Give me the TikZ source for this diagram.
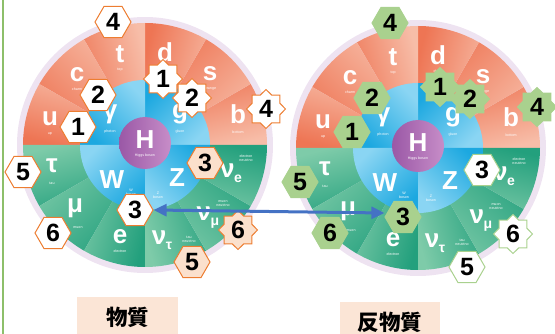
\documentclass[tikz,border=0pt]{standalone}
\usepackage{fontspec}
\setmainfont{Liberation Sans}
\newfontfamily\cjk{Noto Sans CJK JP}
\usetikzlibrary{shapes.geometric,arrows.meta}
\definecolor{orD}{HTML}{EE7554}
\definecolor{orL}{HTML}{F7BDA8}
\definecolor{grD}{HTML}{23A07D}
\definecolor{grL}{HTML}{7ECBA9}
\definecolor{blD}{HTML}{1CA8E0}
\definecolor{blL}{HTML}{8AD5F3}
\definecolor{puD}{HTML}{9A58A6}
\definecolor{puL}{HTML}{C78DC8}
\definecolor{lav}{HTML}{EEE3F1}
\definecolor{badgeOr}{HTML}{ED7D31}
\definecolor{peach}{HTML}{FBE0CC}
\definecolor{badgeGr}{HTML}{A9D18E}
\definecolor{arrowBl}{HTML}{4472C4}
\definecolor{lineGr}{HTML}{8DBF6A}
\definecolor{labelBg}{HTML}{FBE5D6}
\tikzset{
  big/.style={text=white,font=\fontsize{26}{26}\selectfont\bfseries,inner sep=0pt},
  tiny/.style={text=white,font=\fontsize{3.6}{4}\selectfont,inner sep=0pt,align=center},
  hexb/.style={regular polygon,regular polygon sides=6,minimum size=36pt,inner sep=0pt,
    font=\fontsize{25}{25}\selectfont\bfseries,line width=1pt},
  starb/.style={star,star points=8,star point ratio=1.3,minimum size=39pt,inner sep=0pt,
    font=\fontsize{25}{25}\selectfont\bfseries,line width=1pt},
  orW/.style={draw=badgeOr,fill=white},
  orP/.style={draw=badgeOr,fill=peach},
  grF/.style={draw=badgeGr,fill=badgeGr},
  grW/.style={draw=badgeGr,fill=white},
  labelbox/.style={fill=labelBg,inner sep=0pt,font=\cjk\bfseries\fontsize{21.5}{22}\selectfont},
  biarrow/.style={draw=arrowBl,line width=3pt,
    {Triangle[length=13pt,width=12pt]}-{Triangle[length=13pt,width=12pt]}},
}
\newcommand\nusub[1]{ν\kern-0.5pt\raisebox{-5pt}{\fontsize{14}{14}\selectfont #1}}
\newcommand\mywheel[3]{%
\begin{scope}[shift={(#1,#2)}]
  \fill[lav] (0,0) circle[radius=128pt];
  \foreach \a in {0,30,...,150}{%
    \pgfmathsetmacro\mm{\a+15}%
    \shade[top color=orD,bottom color=orL,shading angle=\mm] (0,0) -- (\a:122pt)
      arc[start angle=\a,delta angle=30,radius=122pt] -- cycle;}
  \foreach \a in {180,210,...,330}{%
    \pgfmathsetmacro\mm{\a+15}%
    \shade[top color=grD,bottom color=grL,shading angle=\mm] (0,0) -- (\a:122pt)
      arc[start angle=\a,delta angle=30,radius=122pt] -- cycle;}
  \foreach \a in {0,90,180,270}{%
    \pgfmathsetmacro\mm{\a+45}%
    \shade[top color=blD,bottom color=blL,shading angle=\mm] (0,0) -- (\a:65pt)
      arc[start angle=\a,delta angle=90,radius=65pt] -- cycle;}
  \shade[left color=puD,right color=puL] (0,-2) circle[radius=26pt];
  % letters
  \node[big] (#3u) at (-95,-26) {u};
  \node[tiny] (#3us) at (-95,-11) {up};
  \node[big] (#3c) at (-68,-70) {c};
  \node[tiny] (#3cs) at (-68,-56) {charm};
  \node[big] (#3t) at (-25,-91) {t};
  \node[tiny] (#3ts) at (-25,-75) {top};
  \node[big] (#3d) at (20,-93) {d};
  \node[tiny] (#3ds) at (20,-77) {down};
  \node[big] (#3s) at (65,-71) {s};
  \node[tiny] (#3ss) at (65,-56) {strange};
  \node[big] (#3b) at (93,-31) {b};
  \node[tiny] (#3bs) at (93,-13) {bottom};
  \node[big] (#3y) at (-35,-31) {γ};
  \node[tiny] (#3ys) at (-35,-13) {photon};
  \node[big] (#3g) at (35,-31) {g};
  \node[tiny] (#3gs) at (35,-13) {gluon};
  \node[big] (#3H) at (0,-5) {H};
  \node[tiny] (#3Hs) at (0,11) {Higgs boson};
  \node[big] (#3W) at (-33,35) {W};
  \node[tiny] (#3Ws) at (-14,47) {W\\boson};
  \node[big] (#3Z) at (32,33) {Z};
  \node[tiny] (#3Zs) at (13,50) {Z\\boson};
  \node[big] (#3ne) at (86,28) {\nusub{e}};
  \node[tiny] (#3nes) at (101,13) {electron\\neutrino};
  \node[big] (#3nm) at (63,73) {\nusub{μ}};
  \node[tiny] (#3nms) at (78,59) {muon\\neutrino};
  \node[big] (#3nt) at (17,95) {\nusub{τ}};
  \node[tiny] (#3nts) at (44,94) {tau\\neutrino};
  \node[big] (#3e) at (-25,92) {e};
  \node[tiny] (#3es) at (-25,106) {electron};
  \node[big] (#3m) at (-70,63) {μ};
  \node[tiny] (#3ms) at (-67,83) {muon};
  \node[big] (#3ta) at (-93,21) {τ};
  \node[tiny] (#3tas) at (-93,38) {tau};
\end{scope}}
\begin{document}
\begin{tikzpicture}[x=1pt,y=-1pt]
\useasboundingbox (0,0) rectangle (555,334);
\coordinate (vtop) at (3,0);
\coordinate (vbot) at (3,334);
\draw[lineGr,line width=1.3pt] (vtop) -- (vbot);
\mywheel{145}{145}{L}
\mywheel{418}{148}{R}
% left badges
\node[hexb,orW] (L4a) at (113,22) {4};
\node[starb,orW] (L1s) at (163,79) {1};
\node[starb,orW] (L2s) at (192,98) {2};
\node[starb,orW] (L4s) at (266,109) {4};
\node[hexb,orW] (L2h) at (98,95) {2};
\node[hexb,orW] (L1h) at (78,127) {1};
\node[hexb,orW] (L5h) at (23,172) {5};
\node[hexb,orP] (L3p) at (205,163) {3};
\node[hexb,orW] (L3h) at (135,210) {3};
\node[hexb,orW] (L6h) at (53,233) {6};
\node[starb,orP] (L6s) at (238,230) {6};
\node[hexb,orP] (L5p) at (192,262) {5};
% right badges
\node[hexb,grF] (R4a) at (390,23) {4};
\node[starb,grF] (R1s) at (440,87) {1};
\node[starb,grF] (R2s) at (470,99) {2};
\node[starb,grF] (R4s) at (537,107) {4};
\node[hexb,grF] (R2h) at (372,98) {2};
\node[hexb,grF] (R1h) at (352,132) {1};
\node[hexb,grF] (R5h) at (300,182) {5};
\node[hexb,grW] (R3w) at (482,170) {3};
\node[hexb,grF] (R3g) at (403,217) {3};
\node[hexb,grF] (R6h) at (330,233) {6};
\node[starb,grW] (R6s) at (513,234) {6};
\node[hexb,grW] (R5w) at (467,267) {5};
% arrow
\draw[biarrow] (L3h.east) -- ([yshift=4pt]R3g.west);
% labels
\node[labelbox,minimum width=101pt,minimum height=40pt] (mat) at (127.5,317) {物質};
\node[labelbox,minimum width=100pt,minimum height=40pt] (anti) at (390,322) {反物質};
\end{tikzpicture}
\end{document}
